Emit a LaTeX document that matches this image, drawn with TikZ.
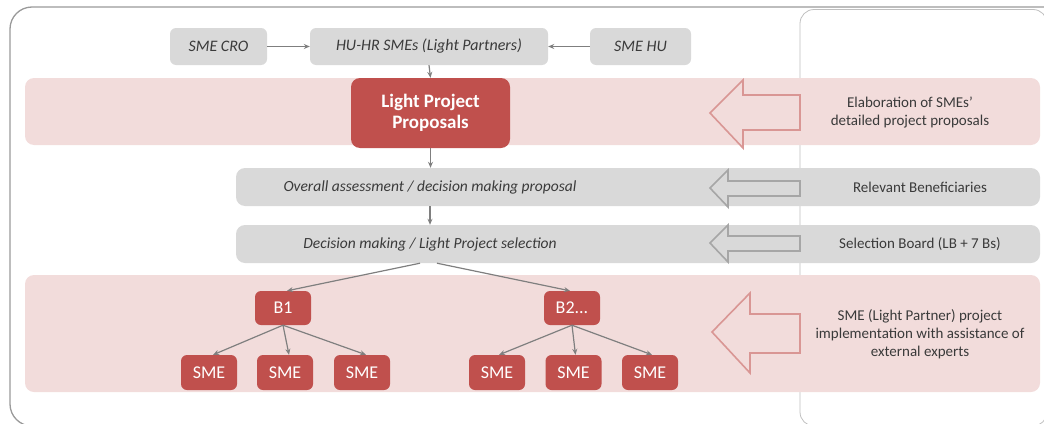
\documentclass[tikz,border=0pt]{standalone}
\usepackage{fontspec}
\setmainfont{Carlito}
\usetikzlibrary{arrows.meta}
\definecolor{redbox}{HTML}{C0504D}
\definecolor{pinkband}{HTML}{F2DCDB}
\definecolor{grayband}{HTML}{D9D9D9}
\definecolor{arrgray}{HTML}{7F7F7F}
\definecolor{txt}{HTML}{3A3A3A}
\definecolor{pinkline}{HTML}{D99694}
\definecolor{grayline}{HTML}{A6A6A6}
\definecolor{panelline}{HTML}{BFBFBF}
\definecolor{frameline}{HTML}{9A9A9A}
\begin{document}
\begin{tikzpicture}[x=1pt,y=-1pt,
  graybox/.style={fill=grayband, rounded corners=6pt, inner sep=0pt, font=\itshape\fontsize{16}{18}\selectfont, text=txt},
  rbox/.style={fill=redbox, rounded corners=6pt, inner sep=0pt, text=white, font=\fontsize{18}{20}\selectfont, minimum width=56pt, minimum height=35pt},
  bandnode/.style={rounded corners=9pt, inner sep=0pt},
  righttext/.style={align=center, text=txt, font=\fontsize{15}{18}\selectfont, inner sep=0pt},
  gtext/.style={text=txt, font=\itshape\fontsize{15.5}{18}\selectfont, inner sep=0pt},
  conn/.style={draw=arrgray, line width=1.2pt, -{Stealth[length=6pt,width=5pt]}},
  bigpink/.style={draw=pinkline, line width=1.6pt, fill=pinkband, line join=miter},
  biggray/.style={draw=grayline, line width=1.6pt, fill=grayband, line join=miter}
]
\useasboundingbox (0,0) rectangle (1044,423);
% frames
\draw[frameline, line width=1.3pt, rounded corners=22pt] (1070,7) -- (10,7) -- (10,426) -- (1070,426);
\draw[panelline, line width=0.8pt, rounded corners=14pt] (800,9.5) rectangle (1047,426);
% bands
\node[bandnode, fill=pinkband, minimum width=1015pt, minimum height=67pt] (band1) at (532.5,111.5) {};
\node[bandnode, fill=grayband, minimum width=804pt, minimum height=38pt] (band2) at (638,187) {};
\node[bandnode, fill=grayband, minimum width=804pt, minimum height=38pt] (band3) at (638,244) {};
\node[bandnode, fill=pinkband, minimum width=1015pt, minimum height=117pt] (band4) at (532.5,333.5) {};
% top boxes
\node[graybox, minimum width=97pt, minimum height=37pt] (cro) at (218.5,46.5) {SME CRO};
\node[graybox, minimum width=238pt, minimum height=37pt] (huhr) at (429,46.5) {HU-HR SMEs (Light Partners)};
\node[graybox, minimum width=101pt, minimum height=37pt] (hu) at (640.5,46.5) {SME HU};
% proposals
\node[fill=redbox, rounded corners=9pt, inner sep=0pt, text=white, align=center,
      font=\bfseries\fontsize{19}{21}\selectfont, minimum width=159pt, minimum height=70pt] (prop) at (430.5,113) {Light Project\\Proposals};
% band texts
\node[gtext] (t2) at (430,187) {Overall assessment / decision making proposal};
\node[gtext] (t3) at (430,244) {Decision making / Light Project selection};
% B nodes
\node[rbox, minimum height=34pt] (b1) at (283,308) {B1};
\node[rbox, minimum height=34pt] (b2) at (572,308) {B2...};
\node[rbox] (s1) at (209,372.5) {SME};
\node[rbox] (s2) at (285,372.5) {SME};
\node[rbox] (s3) at (362,372.5) {SME};
\node[rbox] (s4) at (497,372.5) {SME};
\node[rbox] (s5) at (573.5,372.5) {SME};
\node[rbox] (s6) at (650,372.5) {SME};
% connectors
\draw[conn] (cro) -- (huhr);
\draw[conn] (hu) -- (huhr);
\draw[conn] (huhr.south) -- (prop.north);
\draw[conn] (prop.south) -- (prop.south |- band2.north);
\draw[conn] (t2 |- band2.south) -- (t2 |- band3.north);
\coordinate (d1) at ([xshift=-10pt]t3 |- band3.south);
\coordinate (d2) at ([xshift=7pt]t3 |- band3.south);
\draw[conn] (d1) -- ([xshift=4pt]b1.north);
\draw[conn] (d2) -- ([xshift=-2pt]b2.north);
\foreach \s in {s1,s2,s3} \draw[conn] (b1.south) -- ([xshift=4pt]\s.north);
\foreach \s in {s4,s5,s6} \draw[conn] (b2.south) -- ([xshift=2pt]\s.north);
% big hollow arrows
\draw[bigpink] (800,95) -- (743,95) -- (743,80) -- (710,113) -- (743,148) -- (743,130) -- (800,130) -- cycle;
\draw[biggray] (800,181) -- (728,181) -- (728,170) -- (710,188) -- (728,207) -- (728,196) -- (800,196) -- cycle;
\draw[biggray] (800,236) -- (728,236) -- (728,225) -- (710,243) -- (728,262) -- (728,251) -- (800,251) -- cycle;
\draw[bigpink] (800,314) -- (750,314) -- (750,293) -- (712,332) -- (750,373) -- (750,353) -- (800,353) -- cycle;
% right texts
\node[righttext] (r1) at (910,112) {Elaboration of SMEs'\\detailed project proposals};
\node[righttext] (r2) at (920,187) {Relevant Beneficiaries};
\node[righttext] (r3) at (920,244) {Selection Board (LB + 7 Bs)};
\node[righttext] (r4) at (920,334) {SME (Light Partner) project\\implementation with assistance of\\external experts};
\end{tikzpicture}
\end{document}
